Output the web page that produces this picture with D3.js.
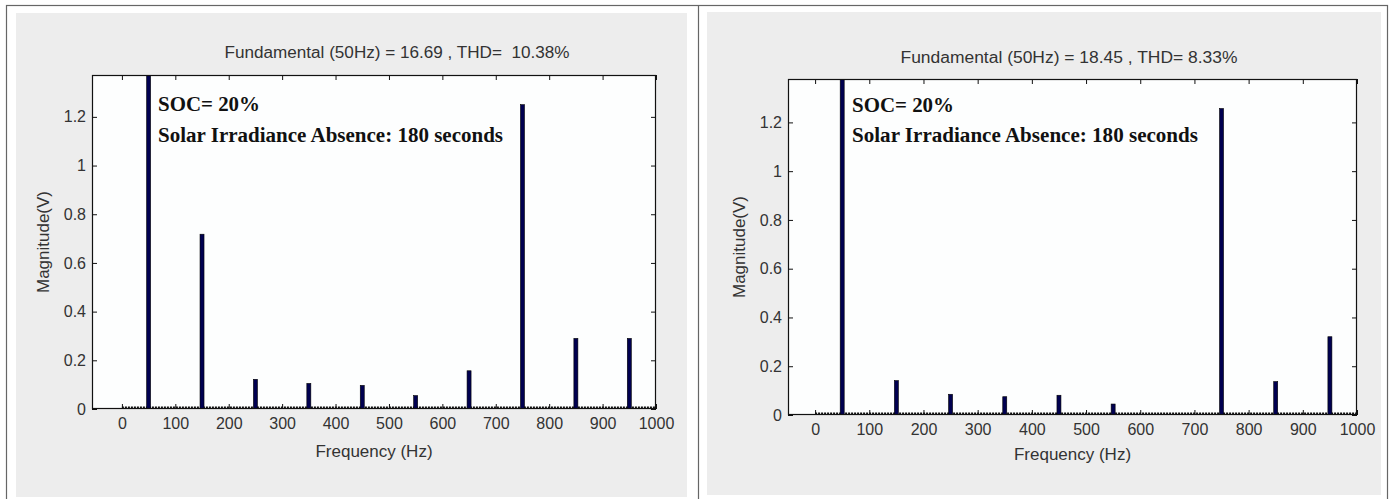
<!DOCTYPE html>
<html>
<head>
<meta charset="utf-8">
<script src="https://cdn.jsdelivr.net/npm/d3@7"></script>
<style>
  html, body { margin: 0; padding: 0; background: #ffffff; }
  svg { display: block; }
  .tick text { font-family: "Liberation Sans", Arial, sans-serif; font-size: 16px; fill: #333; }
</style>
</head>
<body>
<svg id="chart" width="1390" height="499"></svg>
<script>
// ---- data ----
const harmonicsHz = [50, 150, 250, 350, 450, 550, 650, 750, 850, 950];
const magLeft  = [16.69, 0.718, 0.122, 0.105, 0.097, 0.055, 0.157, 1.250, 0.290, 0.290];
const magRight = [18.45, 0.141, 0.085, 0.075, 0.081, 0.045, 0.0, 1.257, 0.137, 0.321];
const xTicks = [0, 100, 200, 300, 400, 500, 600, 700, 800, 900, 1000];
const yTicks = [0, 0.2, 0.4, 0.6, 0.8, 1, 1.2];
const titles = ["Fundamental (50Hz) = 16.69 , THD=  10.38%", "Fundamental (50Hz) = 18.45 , THD= 8.33%"];
const xLimits = [[-56, 1000], [-50, 1000]];
const yLimits = [[0, 1.372], [0, 1.378]];
const annotLine1 = "SOC= 20%";
const annotLine2 = "Solar Irradiance Absence: 180 seconds";
const xLabel = "Frequency (Hz)";
const yLabel = "Magnitude(V)";

// ---- layout ----
const panels = [
  { mags: magLeft,  bg: {x: 16, y: 13, w: 671, h: 484}, plot: {x: 92, y: 75, w: 564, h: 334},
    titleX: 397, titleY: 58, titleLen: 345, annX: 158, annY1: 111, annY2: 142, ann1Len: 102, ann2Len: 345,
    ylabX: 43, xlabY: 457 },
  { mags: magRight, bg: {x: 707, y: 12, w: 674, h: 483}, plot: {x: 788, y: 79, w: 569, h: 336},
    titleX: 1069, titleY: 63, titleLen: 337, annX: 852, annY1: 112, annY2: 142, ann1Len: 102, ann2Len: 346,
    ylabX: 739, xlabY: 460 }
];

const svg = d3.select("#chart");

// outer frame and separator
svg.append("rect").attr("x", 6.5).attr("y", 5.5).attr("width", 1381).attr("height", 520)
  .attr("fill", "none").attr("stroke", "#666").attr("stroke-width", 1.2);
svg.append("line").attr("x1", 698.5).attr("x2", 698.5).attr("y1", 5).attr("y2", 499)
  .attr("stroke", "#666").attr("stroke-width", 1.2);

panels.forEach((p, i) => {
  const g = svg.append("g");
  g.append("rect").attr("x", p.bg.x).attr("y", p.bg.y).attr("width", p.bg.w).attr("height", p.bg.h)
    .attr("fill", "#ededed");

  const P = p.plot;
  const x = d3.scaleLinear().domain(xLimits[i]).range([P.x, P.x + P.w]);
  const y = d3.scaleLinear().domain(yLimits[i]).range([P.y + P.h, P.y]);

  g.append("rect").attr("x", P.x).attr("y", P.y).attr("width", P.w).attr("height", P.h)
    .attr("fill", "#fdfefe");

  const clipId = "clip" + i;
  g.append("clipPath").attr("id", clipId).append("rect")
    .attr("x", P.x).attr("y", P.y).attr("width", P.w).attr("height", P.h);

  // axes (ticks inward)
  const ax = g.append("g").attr("transform", `translate(0,${P.y + P.h})`)
    .call(d3.axisBottom(x).tickValues(xTicks).tickSize(-5).tickPadding(9).tickFormat(d3.format("d")));
  ax.selectAll(".tick text").attr("dy", "0.71em");
  g.append("g").attr("transform", `translate(0,${P.y})`)
    .call(d3.axisTop(x).tickValues(xTicks).tickSize(-5).tickFormat(""));
  g.append("g").attr("transform", `translate(${P.x},0)`)
    .call(d3.axisLeft(y).tickValues(yTicks).tickSize(-5).tickPadding(6).tickFormat(d => d3.format("")(+d.toFixed(1))));
  g.append("g").attr("transform", `translate(${P.x + P.w},0)`)
    .call(d3.axisRight(y).tickValues(yTicks).tickSize(-5).tickFormat(""));
  g.selectAll(".domain").remove();
  g.selectAll(".tick line").attr("stroke", "#111").attr("stroke-width", 1);

  const clipG = g.append("g").attr("clip-path", `url(#${clipId})`);
  // baseline (dotted bars of the spectrum)
  clipG.append("line").attr("x1", x(0)).attr("x2", x(1000))
    .attr("y1", y(0) - 1.5).attr("y2", y(0) - 1.5)
    .attr("stroke", "#111").attr("stroke-width", 2).attr("stroke-dasharray", "2,1");

  // harmonic bars
  const bw = 4;
  clipG.selectAll("rect.bar").data(harmonicsHz.map((f, k) => ({f, v: p.mags[k]})).filter(d => d.v > 0))
    .enter().append("rect").attr("class", "bar")
    .attr("x", d => x(d.f) - bw / 2).attr("width", bw)
    .attr("y", d => y(d.v)).attr("height", d => y(0) - y(d.v))
    .attr("fill", "#000050").attr("stroke", "#000").attr("stroke-width", 0.6);

  // frame
  g.append("rect").attr("x", P.x + 0.5).attr("y", P.y + 0.5).attr("width", P.w - 1).attr("height", P.h - 1)
    .attr("fill", "none").attr("stroke", "#111").attr("stroke-width", 1.2);

  // title
  g.append("text").attr("x", p.titleX).attr("y", p.titleY).attr("text-anchor", "middle")
    .attr("font-family", "Liberation Sans, Arial, sans-serif").attr("font-size", 16).attr("fill", "#333")
    .attr("textLength", p.titleLen).attr("lengthAdjust", "spacingAndGlyphs")
    .style("white-space", "pre").text(titles[i]);

  // annotations
  g.append("text").attr("x", p.annX).attr("y", p.annY1)
    .attr("font-family", "Liberation Serif, Times New Roman, serif").attr("font-weight", "bold")
    .attr("font-size", 20).attr("fill", "#111")
    .attr("textLength", p.ann1Len).attr("lengthAdjust", "spacingAndGlyphs").text(annotLine1);
  g.append("text").attr("x", p.annX).attr("y", p.annY2)
    .attr("font-family", "Liberation Serif, Times New Roman, serif").attr("font-weight", "bold")
    .attr("font-size", 20).attr("fill", "#111")
    .attr("textLength", p.ann2Len).attr("lengthAdjust", "spacingAndGlyphs").text(annotLine2);

  // axis labels
  g.append("text").attr("x", P.x + P.w / 2).attr("y", p.xlabY).attr("text-anchor", "middle")
    .attr("font-family", "Liberation Sans, Arial, sans-serif").attr("font-size", 17).attr("fill", "#333")
    .text(xLabel);
  g.append("text").attr("transform", `translate(${p.ylabX},${P.y + P.h / 2}) rotate(-90)`)
    .attr("text-anchor", "middle").attr("dy", "0.35em")
    .attr("font-family", "Liberation Sans, Arial, sans-serif").attr("font-size", 17).attr("fill", "#333")
    .text(yLabel);
});
</script>
</body>
</html>
